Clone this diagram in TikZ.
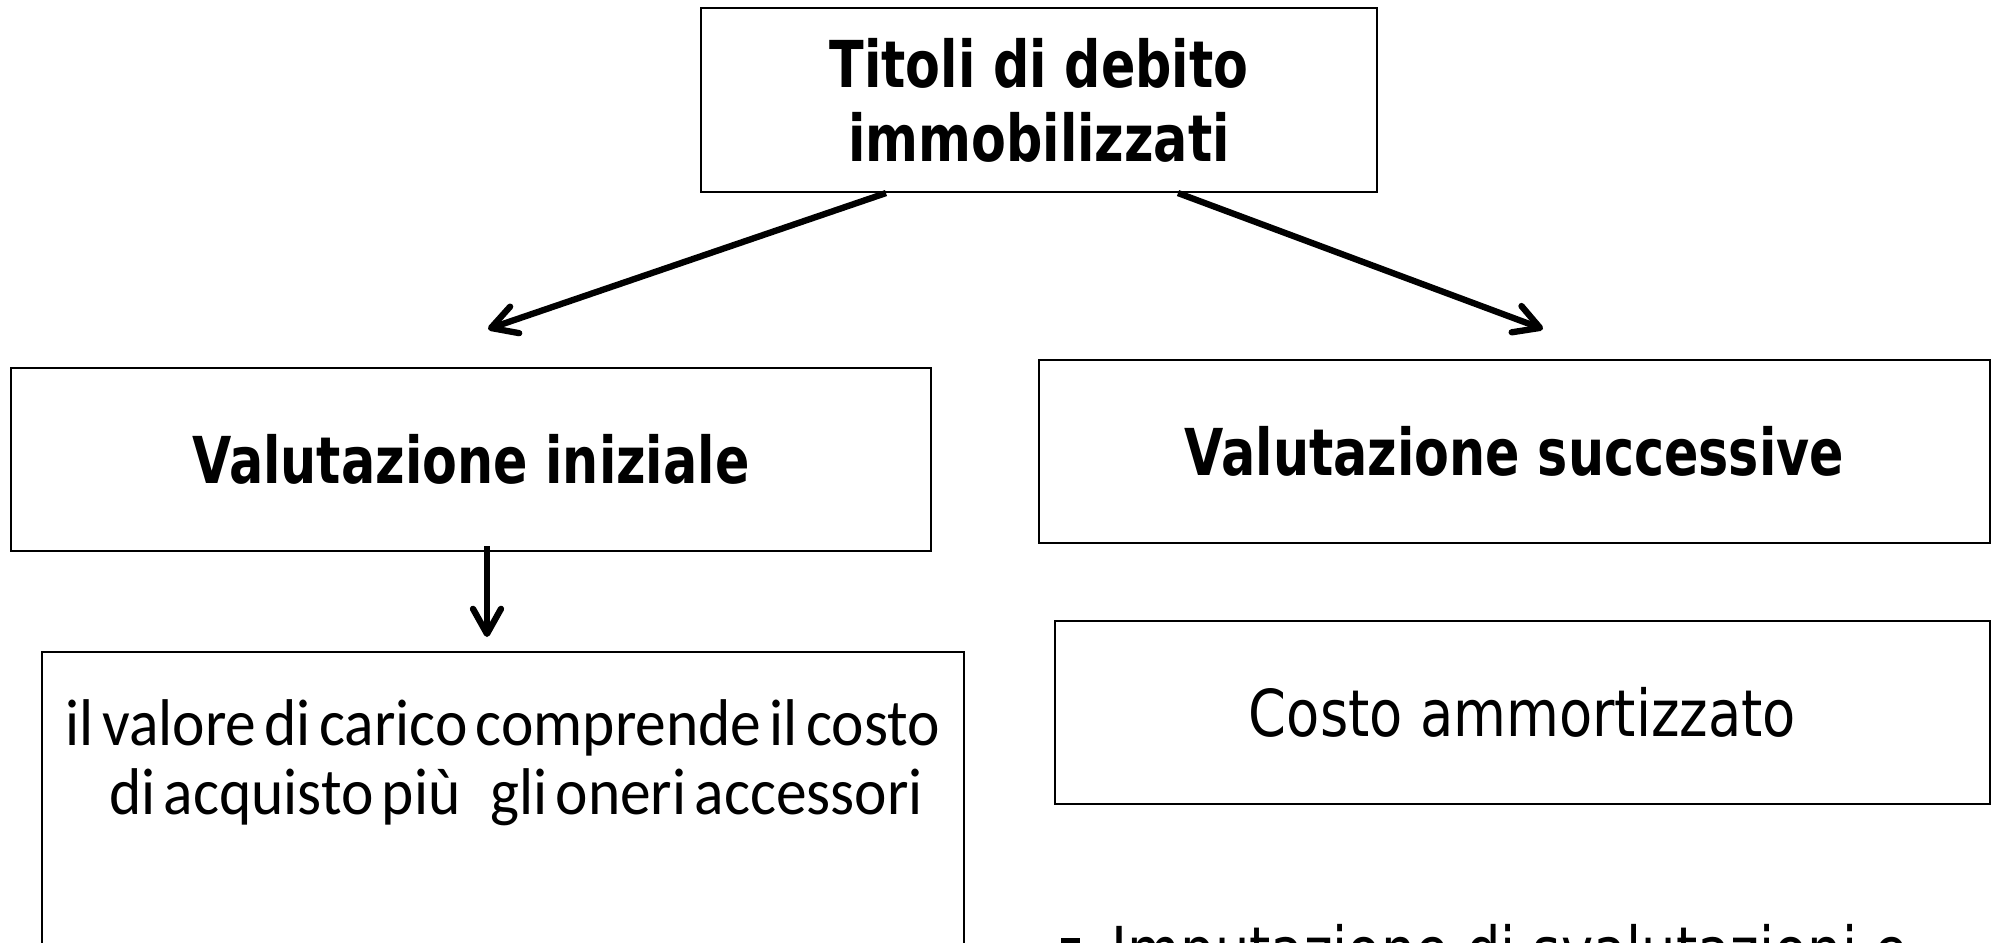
\documentclass[tikz,border=0pt]{standalone}
\usepackage{fontspec}
\setmainfont{DejaVu Sans}[FakeStretch=0.84,BoldFeatures={FakeStretch=0.785}]
\newfontfamily\calfont{Carlito}[WordSpace=0.6,FakeStretch=0.93]
\usetikzlibrary{arrows.meta}
\begin{document}
\begin{tikzpicture}[x=0.1mm,y=-0.1mm,
  box/.style={draw,line width=0.6pt,inner sep=0pt},
  txt/.style={font=\fontsize{18.4}{21}\selectfont,align=center},
  head/.style={txt,font=\fontsize{18.4}{21}\selectfont\bfseries},
  arr/.style={line width=1.8pt,-{Straight Barb[length=2.5mm,width=2.8mm,round]}}]
\clip (0,0) rectangle (1995,942);
\node[box,head,minimum width=67.6mm,minimum height=18.4mm] (titoli) at (1039,100) {Titoli di debito\\immobilizzati};
\node[box,head,minimum width=92mm,minimum height=18.3mm] (iniziale) at (471,459.5) {Valutazione iniziale};
\node[box,head,minimum width=95.1mm,minimum height=18.3mm] (successive) at (1514.5,451.5) {Valutazione successive};
\node[box,txt,minimum width=93.5mm,minimum height=18.3mm] (ammort) at (1522.5,712.5) {Costo ammortizzato};
\node[box,minimum width=92.2mm,minimum height=40mm,anchor=north] (costi) at (503,651) {};
\node[inner sep=0pt,anchor=north,align=center,font=\calfont\fontsize{18.8}{19.6}\selectfont] (costitxt) at (503,699) {il valore di carico comprende il costo\\ \hspace*{0.4em}di acquisto più\hspace{0.45em}gli oneri accessori};
\node[fill,inner sep=0pt,minimum size=1.9mm,anchor=north west] (quad) at (1060,937) {};
\node[txt,inner sep=0pt,anchor=base west] (imput) at (1111,973) {Imputazione di svalutazioni e};
\coordinate (pl) at (488,329);
\coordinate (pr) at (1543,329);
\coordinate (pd) at (487,637);
\draw[arr] ([xshift=-15.3mm]titoli.south) -- (pl);
\draw[arr] ([xshift=13.9mm]titoli.south) -- (pr);
\draw[arr] ([yshift=0.6mm]iniziale.south -| pd) -- (pd);
\end{tikzpicture}
\end{document}
